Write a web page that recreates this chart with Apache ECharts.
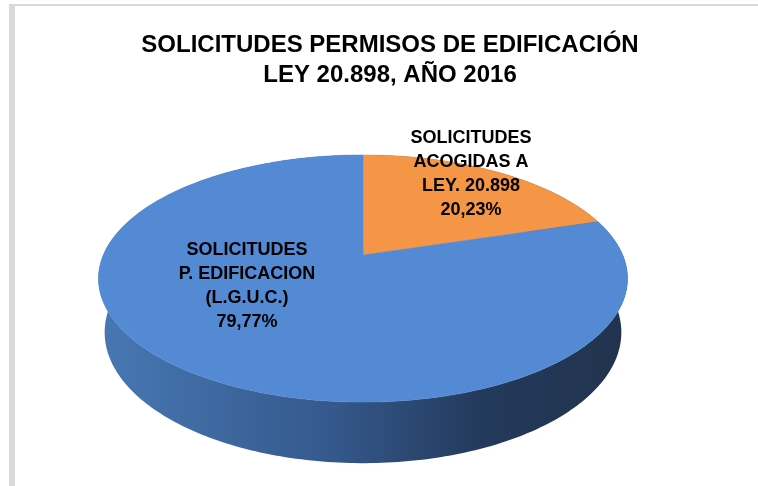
<!DOCTYPE html>
<html>
<head>
<meta charset="utf-8">
<script src="https://cdn.jsdelivr.net/npm/echarts@6.0.0/dist/echarts.min.js"></script>
<style>
html, body { margin: 0; padding: 0; background: #ffffff; }
#chartContainer { width: 758px; height: 486px; }
</style>
</head>
<body>
<div id="chartContainer"></div>
<script>
var titleLines = ['SOLICITUDES PERMISOS DE EDIFICACIÓN', 'LEY 20.898, AÑO 2016'];
var categories = ['SOLICITUDES\nACOGIDAS A\nLEY. 20.898', 'SOLICITUDES\nP. EDIFICACION\n(L.G.U.C.)'];
var shares = [20.23, 79.77];
var sliceColors = ['#f49645', '#538ad3'];

var dom = document.getElementById('chartContainer');
var myChart = echarts.init(dom, null, {
    renderer: 'canvas'
});

// fake 3d pie: unit disk seen from a tilted camera (fitted by eye)
var tilt = 27.3 * Math.PI / 180;
var camDist = 4.667;
var focal = 1212;
var thick = 0.235;
var cosT = Math.cos(tilt);
var sinT = Math.sin(tilt);
var apexX = 363;
var apexY = 255;
var labelPos = [[471, 174], [247, 286]];

var total = shares.reduce(function (a, b) { return a + b; }, 0);

function project(ang, r, h) {
    var x = r * Math.sin(ang);
    var z = -r * Math.cos(ang);
    var yc = z * sinT - h * cosT;
    var dc = camDist - z * cosT - h * sinT;
    return [apexX + focal * x / dc, apexY + focal * yc / dc];
}

var sideFill = new echarts.graphic.LinearGradient(98, 0, 627, 0, [
    { offset: 0, color: '#4878b4' },
    { offset: 0.45, color: '#34588b' },
    { offset: 0.72, color: '#243a5c' },
    { offset: 1, color: '#21334d' }
], true);

function renderSlice(params, api) {
    var i = params.dataIndex;
    var before = 0;
    for (var k = 0; k < i; k++) {
        before += shares[k];
    }
    var a0 = before / total * 2 * Math.PI;
    var a1 = (before + api.value(0)) / total * 2 * Math.PI;
    var steps = Math.max(2, Math.ceil((a1 - a0) / (Math.PI / 180)));
    var rimTop = [];
    var rimBot = [];
    for (var j = 0; j <= steps; j++) {
        var a = a0 + (a1 - a0) * j / steps;
        rimTop.push(project(a, 1, 0));
        rimBot.push(project(a, 1, -thick));
    }
    var topPts = [project(0, 0, 0)].concat(rimTop);
    var wallPts = rimTop.concat(rimBot.slice().reverse());
    var txt = categories[i] + '\n' + shares[i].toFixed(2).replace('.', ',') + '%';

    return {
        type: 'group',
        children: [
            {
                type: 'polygon',
                z2: 1,
                shape: { points: wallPts },
                style: { fill: sideFill, stroke: null }
            },
            {
                type: 'polygon',
                z2: 5,
                shape: { points: topPts },
                style: { fill: sliceColors[i], stroke: sliceColors[i], lineWidth: 0.5 }
            },
            {
                type: 'text',
                z2: 10,
                x: labelPos[i][0],
                y: labelPos[i][1],
                style: {
                    text: txt,
                    fill: '#000000',
                    fontSize: 18,
                    fontWeight: 'bold',
                    fontFamily: 'Liberation Sans, Arial, sans-serif',
                    lineHeight: 24,
                    align: 'center',
                    verticalAlign: 'middle',
                    textAlign: 'center',
                    textVerticalAlign: 'middle'
                }
            }
        ]
    };
}

var option = {
    backgroundColor: '#ffffff',
    animation: false,
    title: {
        text: titleLines.join('\n'),
        left: 390,
        top: 30,
        padding: 0,
        textAlign: 'center',
        textStyle: {
            color: '#000000',
            fontSize: 24,
            fontWeight: 'bold',
            fontFamily: 'Liberation Sans, Arial, sans-serif',
            lineHeight: 30
        }
    },
    graphic: [
        { type: 'rect', shape: { x: 9, y: 4, width: 749, height: 2 }, style: { fill: '#d9d9d9' } },
        { type: 'rect', shape: { x: 9, y: 4, width: 6, height: 482 }, style: { fill: '#d9d9d9' } }
    ],
    series: [
        {
            type: 'custom',
            coordinateSystem: 'none',
            silent: true,
            renderItem: renderSlice,
            data: shares.map(function (v, idx) {
                return { name: categories[idx], value: v };
            })
        }
    ]
};

if (option && typeof option === 'object') {
    myChart.setOption(option);
}

window.addEventListener('resize', myChart.resize);
</script>
</body>
</html>
